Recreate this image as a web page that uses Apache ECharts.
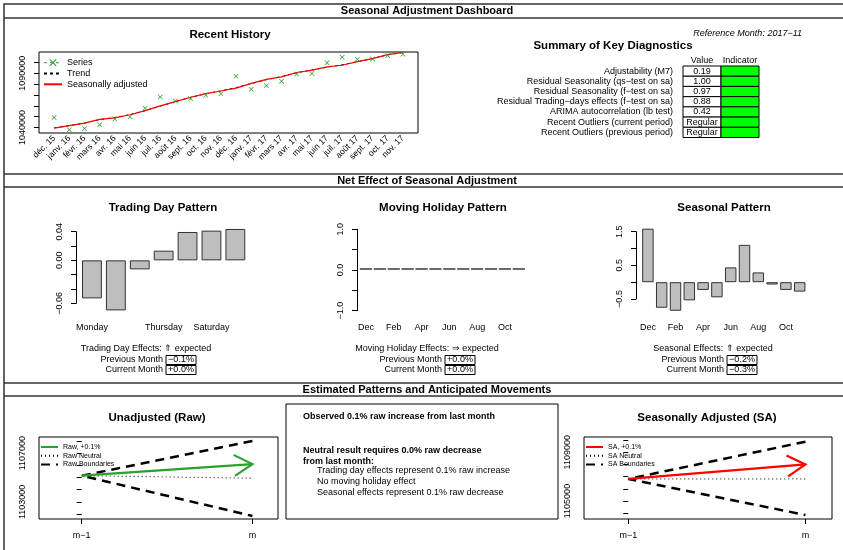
<!DOCTYPE html>
<html>
<head>
<meta charset="UTF-8">
<title>Seasonal Adjustment Dashboard</title>
<style>
  body { margin: 0; background: #fff; }
  #chart { width: 843px; height: 550px; }
</style>
<script src="https://cdn.jsdelivr.net/npm/echarts@6/dist/echarts.min.js"></script>
</head>
<body>
<div id="chart"></div>
<script>
// ---- recent history ----
const historyMonths = ['déc. 15', 'janv. 16', 'févr. 16', 'mars 16', 'avr. 16', 'mai 16', 'juin 16', 'juil. 16',
  'août 16', 'sept. 16', 'oct. 16', 'nov. 16', 'déc. 16', 'janv. 17', 'févr. 17', 'mars 17', 'avr. 17',
  'mai 17', 'juin 17', 'juil. 17', 'août 17', 'sept. 17', 'oct. 17', 'nov. 17'];
const historySeries = [1049200, 1037900, 1039100, 1042500, 1047700, 1049800, 1057800, 1068200,
  1064500, 1066600, 1069700, 1071200, 1087400, 1075200, 1078600, 1082800, 1089300,
  1089900, 1099700, 1104900, 1103000, 1103300, 1106400, 1107600];
const historyTrend = [1039600, 1041700, 1044100, 1047200, 1049200, 1051800, 1055500, 1059700,
  1063800, 1067800, 1071000, 1073800, 1076800, 1080500, 1084100, 1087000, 1090600,
  1093000, 1095700, 1097900, 1100800, 1103700, 1107100, 1109200];
const historySa = [1039400, 1041600, 1044000, 1047400, 1048900, 1051700, 1055600, 1059900,
  1063900, 1067900, 1071200, 1073700, 1076400, 1080700, 1084400, 1086800, 1090800,
  1092900, 1096000, 1097500, 1100900, 1103600, 1107300, 1109400];
const historyTicks = [1040000, 1050000, 1060000, 1070000, 1080000, 1090000, 1100000];
const historyTickLabels = [1040000, 1090000];

// ---- diagnostics table ----
const diagLabels = ['Adjustability (M7)', 'Residual Seasonality (qs\u2212test on sa)',
  'Residual Seasonality (f\u2212test on sa)', 'Residual Trading\u2212days effects (f\u2212test on sa)',
  'ARIMA autocorrelation (lb test)', 'Recent Outliers (current period)', 'Recent Outliers (previous period)'];
const diagValues = ['0.19', '1.00', '0.97', '0.88', '0.42', 'Regular', 'Regular'];
const diagColumns = ['Value', 'Indicator'];
const diagIndicator = ['#00ff00', '#00ff00', '#00ff00', '#00ff00', '#00ff00', '#00ff00', '#00ff00'];

// ---- net effect panels ----
const weekDays = ['Monday', 'Tuesday', 'Wednesday', 'Thursday', 'Friday', 'Saturday', 'Sunday'];
const tradingDay = [-0.0531, -0.0699, -0.0126, 0.0135, 0.0396, 0.0415, 0.0438];
const tradingTicks = [-0.06, -0.04, -0.02, 0, 0.02, 0.04];
const tradingTickLabels = [-0.06, 0, 0.04];

const months = ['Dec', 'Jan', 'Feb', 'Mar', 'Apr', 'May', 'Jun', 'Jul', 'Aug', 'Sep', 'Oct', 'Nov'];
const movingHoliday = [0, 0, 0, 0, 0, 0, 0, 0, 0, 0, 0, 0];
const holidayTicks = [-1, -0.5, 0, 0.5, 1];
const holidayTickLabels = [-1, 0, 1];

const seasonal = [1.59, -0.76, -0.85, -0.54, -0.23, -0.45, 0.44, 1.11, 0.29, -0.07, -0.23, -0.28];
const seasonalTicks = [-0.5, 0, 0.5, 1, 1.5];
const seasonalTickLabels = [-0.5, 0.5, 1.5];

const effectNames = ['Trading Day Effects:', 'Moving Holiday Effects:', 'Seasonal Effects:'];
const effectArrows = ['\u21d1', '\u21d2', '\u21d1'];
const effectPrev = ['\u22120.1%', '+0.0%', '\u22120.2%'];
const effectCurr = ['+0.0%', '+0.0%', '\u22120.3%'];

// ---- anticipated movements ----
const moveLabels = ['m\u22121', 'm'];
const rawStart = 1105150;
const rawEnd = 1106100;
const rawNeutralEnd = 1104940;
const rawBounds = [1108000, 1101840];
const rawTicks = [1102000, 1103000, 1104000, 1105000, 1106000, 1107000, 1108000];
const rawTickLabels = [1103000, 1107000];

const saStart = 1106810;
const saEnd = 1108000;
const saNeutralEnd = 1106810;
const saBounds = [1109860, 1103860];
const saTicks = [1104000, 1105000, 1106000, 1107000, 1108000, 1109000, 1110000];
const saTickLabels = [1105000, 1109000];

const observedText = 'Observed 0.1% raw increase from last month';
const neutralText = ['Neutral result requires 0.0% raw decrease', 'from last month:'];
const detailText = ['Trading day effects represent 0.1% raw increase', 'No moving holiday effect',
  'Seasonal effects represent 0.1% raw decrease'];

const FONT = '"Liberation Sans", Arial, Helvetica, sans-serif';
const GREEN = '#2ca02c';
const RED = '#ff0000';
const X_SYMBOL = 'path://M0,1 L1,0 L5,4 L9,0 L10,1 L6,5 L10,9 L9,10 L5,6 L1,10 L0,9 L4,5 Z';

const chart = echarts.init(document.getElementById('chart'));

function minus(s) { return s.replace('-', '\u2212'); }
function fixedFmt(d) { return v => minus(v.toFixed(d)); }

function text(x, y, str, o) {
  o = o || {};
  return {
    type: 'text', x: x, y: y, silent: true,
    style: {
      text: str, x: 0, y: 0,
      fontSize: o.size || 9, fontWeight: o.bold ? 'bold' : 'normal',
      fontStyle: o.italic ? 'italic' : 'normal', fontFamily: FONT,
      fill: '#000', align: o.align || 'center', textAlign: o.align || 'center',
      verticalAlign: 'middle', textVerticalAlign: 'middle'
    }
  };
}

function line(x1, y1, x2, y2) {
  return { type: 'line', silent: true, shape: { x1, y1, x2, y2 }, style: { stroke: '#333', lineWidth: 1.5 } };
}

// ---- page furniture ----
const elements = [
  { type: 'rect', silent: true, shape: { x: 4, y: 4, width: 900, height: 600 }, style: { fill: null, stroke: '#333', lineWidth: 1.5 } },
  line(4, 18, 843, 18), line(4, 174, 843, 174), line(4, 187, 843, 187), line(4, 383, 843, 383), line(4, 396, 843, 396),
  text(427, 11, 'Seasonal Adjustment Dashboard', { bold: true, size: 11 }),
  text(427, 181, 'Net Effect of Seasonal Adjustment', { bold: true, size: 11 }),
  text(427, 390, 'Estimated Patterns and Anticipated Movements', { bold: true, size: 11 }),
  text(802, 33, 'Reference Month: 2017\u221211', { italic: true, align: 'right' }),
  text(230, 35, 'Recent History', { bold: true, size: 11.5 }),
  text(613, 46, 'Summary of Key Diagnostics', { bold: true, size: 11.5 }),
  text(163, 208, 'Trading Day Pattern', { bold: true, size: 11.5 }),
  text(443, 208, 'Moving Holiday Pattern', { bold: true, size: 11.5 }),
  text(724, 208, 'Seasonal Pattern', { bold: true, size: 11.5 }),
  text(157, 418, 'Unadjusted (Raw)', { bold: true, size: 11.5 }),
  text(707, 418, 'Seasonally Adjusted (SA)', { bold: true, size: 11.5 })
];

// effect summaries under the three bar panels
const effectPos = [{ cx: 146, bx: 166 }, { cx: 427, bx: 445 }, { cx: 713, bx: 727 }];
effectPos.forEach((p, i) => {
  elements.push(text(p.cx, 349, effectNames[i] + ' ' + effectArrows[i] + ' expected'));
  [['Previous Month', effectPrev[i], 360], ['Current Month', effectCurr[i], 370]].forEach(r => {
    elements.push(text(p.bx - 3, r[2], r[0], { align: 'right' }));
    elements.push({ type: 'rect', silent: true, shape: { x: p.bx, y: r[2] - 4.5, width: 30, height: 9 },
      style: { fill: null, stroke: '#000', lineWidth: 1 } });
    elements.push(text(p.bx + 15, r[2], r[1]));
  });
});

// middle text box
elements.push({ type: 'rect', silent: true, shape: { x: 286, y: 404, width: 272, height: 115 },
  style: { fill: null, stroke: '#000', lineWidth: 1 } });
elements.push(text(303, 417, observedText, { bold: true, align: 'left' }));
neutralText.forEach((t, i) => elements.push(text(303, 451 + i * 10.5, t, { bold: true, align: 'left' })));
detailText.forEach((t, i) => elements.push(text(317, 471 + i * 11, t, { align: 'left' })));

// ---- axes helpers ----
const axisText = { fontSize: 9, color: '#000', fontFamily: FONT };
const tickStyle = { show: true, length: 5, lineStyle: { color: '#000' } };

function leftValueAxis(gi, min, max, ticks, labels, fmt, extra) {
  return Object.assign({
    gridIndex: gi, type: 'value', min, max, splitLine: { show: false },
    axisLine: { show: false },
    axisTick: Object.assign({ customValues: ticks }, tickStyle),
    axisLabel: Object.assign({ customValues: labels, rotate: 90, margin: 12, formatter: fmt }, axisText)
  }, extra || {});
}

function barXAxis(gi, cats, interval, margin) {
  return {
    gridIndex: gi, type: 'category', data: cats,
    axisLine: { show: false }, axisTick: { show: false },
    axisLabel: Object.assign({ interval, margin }, axisText)
  };
}

function legendBox(left, top, size, width, gap, names) {
  return {
    orient: 'vertical', left, top, padding: 0, itemWidth: width, itemHeight: size, itemGap: gap,
    selectedMode: false, itemStyle: { opacity: 0 },
    textStyle: { fontSize: size, lineHeight: size, color: '#000', fontFamily: FONT },
    data: names
  };
}

const boxGrid = { show: true, borderColor: '#000', borderWidth: 1, backgroundColor: 'transparent' };

const option = {
  animation: false,
  textStyle: { fontFamily: FONT },
  graphic: { elements },
  grid: [
    Object.assign({ left: 39, top: 52, width: 379, height: 81 }, boxGrid),
    { left: 683, top: 66, width: 76, height: 71.5 },
    { left: 80, top: 231.7, width: 167.3, height: 71.6 },
    { left: 359, top: 229.3, width: 166.8, height: 81.4 },
    { left: 641, top: 231.7, width: 165.6, height: 67.3 },
    Object.assign({ left: 39, top: 437, width: 239, height: 82 }, boxGrid),
    Object.assign({ left: 584, top: 437, width: 248, height: 82 }, boxGrid)
  ],
  xAxis: [
    {
      gridIndex: 0, type: 'value', min: 0, max: 25, interval: 1, splitLine: { show: false },
      axisLine: { show: false }, axisTick: { show: false },
      axisLabel: { rotate: 45, margin: 4, fontSize: 8.5, color: '#000', fontFamily: FONT,
        formatter: v => historyMonths[v - 1] || '' }
    },
    {
      gridIndex: 1, type: 'category', data: diagColumns, position: 'top',
      axisLine: { show: false }, axisTick: { show: false },
      axisLabel: Object.assign({ margin: 1, interval: 0 }, axisText)
    },
    barXAxis(2, weekDays, (i) => i === 0 || i === 3 || i === 5, 20),
    barXAxis(3, months, 1, 12),
    barXAxis(4, months, 1, 24),
    {
      gridIndex: 5, type: 'value', min: -0.25, max: 1.15, splitLine: { show: false }, axisLine: { show: false },
      axisTick: Object.assign({ customValues: [0, 1] }, tickStyle),
      axisLabel: Object.assign({ customValues: [0, 1], margin: 12, formatter: v => moveLabels[Math.round(v)] }, axisText)
    },
    {
      gridIndex: 6, type: 'value', min: -0.25, max: 1.15, splitLine: { show: false }, axisLine: { show: false },
      axisTick: Object.assign({ customValues: [0, 1] }, tickStyle),
      axisLabel: Object.assign({ customValues: [0, 1], margin: 12, formatter: v => moveLabels[Math.round(v)] }, axisText)
    }
  ],
  yAxis: [
    leftValueAxis(0, 1034860, 1109720, historyTicks, historyTickLabels, v => String(v)),
    {
      gridIndex: 1, type: 'category', data: diagLabels, inverse: true,
      axisLine: { show: false }, axisTick: { show: false },
      axisLabel: Object.assign({ margin: 10, interval: 0 }, axisText)
    },
    leftValueAxis(2, -0.06, 0.04, tradingTicks, tradingTickLabels, fixedFmt(2),
      { offset: 4, axisLine: { show: true, lineStyle: { color: '#000' } } }),
    leftValueAxis(3, -1, 1, holidayTicks, holidayTickLabels, fixedFmt(1),
      { offset: 2, axisLine: { show: true, lineStyle: { color: '#000' } } }),
    leftValueAxis(4, -0.5, 1.5, seasonalTicks, seasonalTickLabels, fixedFmt(1),
      { offset: 5, axisLine: { show: true, lineStyle: { color: '#000' } } }),
    leftValueAxis(5, 1101590, 1108330, rawTicks, rawTickLabels, v => String(v)),
    leftValueAxis(6, 1103530, 1110245, saTicks, saTickLabels, v => String(v))
  ],
  legend: [
    legendBox(43, 58.2, 9, 18, 1.8, [
      { name: 'Series', itemStyle: { opacity: 1, color: GREEN }, lineStyle: { color: GREEN, width: 1, type: [3, 3], opacity: 1 } },
      'Trend', 'Seasonally adjusted'
    ]),
    legendBox(40, 443.5, 7, 17, 1.7, ['Raw, +0.1%', 'Raw Neutral', 'Raw Boundaries']),
    legendBox(585, 443.5, 7, 17, 1.7, ['SA, +0.1%', 'SA Neutral', 'SA Boundaries'])
  ],
  series: []
};

// recent history
option.series.push(
  {
    name: 'Trend', type: 'line', xAxisIndex: 0, yAxisIndex: 0, symbol: 'none',
    data: historyTrend.map((v, i) => [i + 1, v]),
    lineStyle: { color: '#000', width: 1, type: [3, 3] }, itemStyle: { color: '#000' }
  },
  {
    name: 'Seasonally adjusted', type: 'line', xAxisIndex: 0, yAxisIndex: 0, symbol: 'none',
    data: historySa.map((v, i) => [i + 1, v]),
    lineStyle: { color: RED, width: 1.2 }, itemStyle: { color: RED }
  },
  {
    name: 'Series', type: 'line', xAxisIndex: 0, yAxisIndex: 0, symbol: X_SYMBOL, symbolSize: 5,
    showSymbol: true, data: historySeries.map((v, i) => [i + 1, v]),
    lineStyle: { width: 0, opacity: 0 }, itemStyle: { color: GREEN }
  }
);

// diagnostics table
const cells = [];
diagLabels.forEach((_, r) => { cells.push([0, r]); cells.push([1, r]); });
option.series.push({
  type: 'custom', xAxisIndex: 1, yAxisIndex: 1, data: cells, silent: true,
  renderItem(params, api) {
    const col = api.value(0), row = api.value(1);
    const c = api.coord([col, row]);
    const s = api.size([1, 1]);
    const rect = {
      type: 'rect', shape: { x: c[0] - s[0] / 2, y: c[1] - s[1] / 2, width: s[0], height: s[1] },
      style: { fill: col === 1 ? diagIndicator[row] : '#fff', stroke: '#000', lineWidth: 1 }
    };
    if (col === 1) return rect;
    return {
      type: 'group', children: [rect, {
        type: 'text', style: {
          text: diagValues[row], x: c[0], y: c[1], align: 'center', verticalAlign: 'middle',
          textAlign: 'center', textVerticalAlign: 'middle', fontSize: 9, fontFamily: FONT, fill: '#000'
        }
      }]
    };
  }
});

// bar panels
const barStyle = { color: '#bebebe', borderColor: '#333', borderWidth: 1 };
option.series.push(
  { type: 'bar', xAxisIndex: 2, yAxisIndex: 2, data: tradingDay, barWidth: '83%', clip: false, itemStyle: barStyle, silent: true },
  { type: 'bar', xAxisIndex: 3, yAxisIndex: 3, data: movingHoliday, barWidth: '88%', clip: false, barMinHeight: 2,
    itemStyle: { color: '#6a6a6a', borderWidth: 0 }, silent: true },
  { type: 'bar', xAxisIndex: 4, yAxisIndex: 4, data: seasonal, barWidth: '83%', clip: false, itemStyle: barStyle, silent: true }
);

// anticipated movement panels
function movementSeries(gi, prefix, color, start, end, neutralEnd, bounds) {
  return [
    {
      name: prefix + ' Boundaries', type: 'line', xAxisIndex: gi, yAxisIndex: gi, symbol: 'none',
      data: [[1, bounds[0]], [0, start], [1, bounds[1]]],
      lineStyle: { color: '#000', width: 2.5, type: [9, 6] }, itemStyle: { color: '#000' }
    },
    {
      name: prefix + ' Neutral', type: 'line', xAxisIndex: gi, yAxisIndex: gi, symbol: 'none',
      data: [[0, start], [1, neutralEnd]],
      lineStyle: { color: '#000', width: 1, type: [1, 3] }, itemStyle: { color: '#000' }
    },
    {
      name: prefix + ', +0.1%', type: 'line', xAxisIndex: gi, yAxisIndex: gi, symbol: 'none',
      data: [[0, start], [1, end]],
      lineStyle: { color, width: 2.2 }, itemStyle: { color }
    },
    {
      type: 'custom', xAxisIndex: gi, yAxisIndex: gi, silent: true, data: [[0, start, 1, end]],
      encode: { x: [0, 2], y: [1, 3] },
      renderItem(params, api) {
        const p0 = api.coord([api.value(0), api.value(1)]);
        const p1 = api.coord([api.value(2), api.value(3)]);
        const ang = Math.atan2(p1[1] - p0[1], p1[0] - p0[0]);
        const len = 21, spread = Math.PI / 6;
        const a = [p1[0] - len * Math.cos(ang - spread), p1[1] - len * Math.sin(ang - spread)];
        const b = [p1[0] - len * Math.cos(ang + spread), p1[1] - len * Math.sin(ang + spread)];
        return { type: 'polyline', shape: { points: [a, p1, b] }, style: { stroke: color, lineWidth: 2.2, fill: null } };
      }
    }
  ];
}
option.series.push(...movementSeries(5, 'Raw', GREEN, rawStart, rawEnd, rawNeutralEnd, rawBounds));
option.series.push(...movementSeries(6, 'SA', RED, saStart, saEnd, saNeutralEnd, saBounds));

chart.setOption(option);
</script>
</body>
</html>
